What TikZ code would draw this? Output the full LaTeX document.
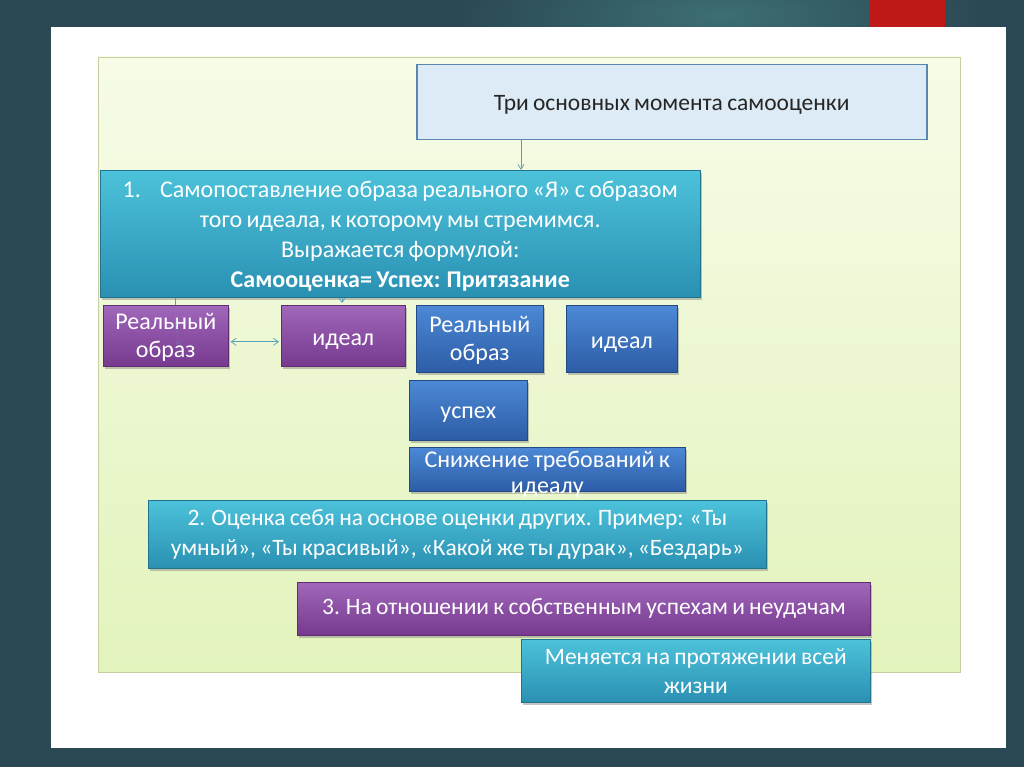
\documentclass[tikz,border=0pt]{standalone}
\usepackage{fontspec}
\setmainfont{Carlito}[WordSpace=0.8]
\usetikzlibrary{shadows,arrows.meta}
\definecolor{slidebg}{HTML}{2B4955}
\definecolor{glow}{HTML}{3D6F73}
\definecolor{redtab}{HTML}{C01A18}
\definecolor{panelT}{HTML}{F6FCE8}
\definecolor{panelB}{HTML}{E3F3BC}
\definecolor{panelE}{HTML}{C9CDA2}
\definecolor{titleF}{HTML}{DCEBF5}
\definecolor{titleE}{HTML}{5A86B0}
\definecolor{cyanT}{HTML}{4CC2DA}
\definecolor{cyanB}{HTML}{2A90B2}
\definecolor{purT}{HTML}{A067BA}
\definecolor{purB}{HTML}{76398E}
\definecolor{bluT}{HTML}{4C89D6}
\definecolor{bluB}{HTML}{2D5CA6}
\definecolor{conn}{HTML}{5A9FB8}
\newcommand\dnshift[2]{\raisebox{-#1}[\height][\depth]{\begin{tabular}{@{}c@{}}#2\end{tabular}}}
\tikzset{
  box/.style={rectangle, anchor=north west, inner sep=2pt, align=center, text=white,
    drop shadow={shadow xshift=2pt, shadow yshift=-3pt, opacity=0.45}},
  cyanbox/.style={box, top color=cyanT, bottom color=cyanB, draw=cyanB!80!black, line width=0.6pt},
  purbox/.style={box, top color=purT, bottom color=purB, draw=purB!80!black, line width=0.6pt},
  blubox/.style={box, top color=bluT, bottom color=bluB, draw=bluB!80!black, line width=0.6pt},
  conline/.style={draw=conn, line width=0.7pt},
  bigtxt/.style={font=\fontsize{24}{28}\selectfont},
}
\begin{document}
\begin{tikzpicture}[x=1pt,y=-1pt]
\useasboundingbox (0,0) rectangle (1024,767);
\fill[slidebg] (0,0) rectangle (1024,767);
\begin{scope}
\clip (0,0) rectangle (1024,27);
\shade[inner color=glow, outer color=slidebg] (720,15) ellipse [x radius=260pt, y radius=70pt];
\end{scope}
\fill[redtab] (869,0) rectangle (945,28);
\fill[white] (51,27) rectangle (1006,748);
\shade[top color=panelT, bottom color=panelB, draw=panelE, line width=0.8pt] (98,57) rectangle (960,672);

% title
\node[rectangle, anchor=north west, minimum width=510pt, minimum height=75pt, fill=titleF, draw=titleE, line width=1.5pt, text=black!85, font=\fontsize{23.5}{26}\selectfont] (title) at (416,64) {\dnshift{3pt}{Три основных момента самооценки}};

% box 1
\node[cyanbox, minimum width=600pt, minimum height=127pt, font=\fontsize{24}{30}\selectfont] (b1) at (100,170)
  {\dnshift{3pt}{1.\hspace{0.8em}Самопоставление образа реального «Я» с образом\\
   того идеала, к которому мы стремимся.\\
   Выражается формулой:\\
   \textbf{Самооценка= Успех: Притязание}}};

% row boxes
\node[purbox, minimum width=125pt, minimum height=61pt, bigtxt] (r1) at (103,305) {\dnshift{2pt}{Реальный\\образ}};
\node[purbox, minimum width=124pt, minimum height=61pt, bigtxt] (i1) at (281,305) {\dnshift{4pt}{идеал}};
\node[blubox, minimum width=127pt, minimum height=67pt, bigtxt] (r2) at (416,305) {\dnshift{2pt}{Реальный\\образ}};
\node[blubox, minimum width=111pt, minimum height=67pt, bigtxt] (i2) at (566,305) {\dnshift{4pt}{идеал}};
\node[blubox, minimum width=118pt, minimum height=60pt, bigtxt] (us) at (409,380) {\dnshift{3pt}{успех}};
\node[blubox, minimum width=276pt, minimum height=44pt, inner sep=0pt, font=\fontsize{24}{26}\selectfont] (sn) at (409,447) {\raisebox{-11pt}[0pt][0pt]{\parbox{276pt}{\centering Снижение требований к\\идеалу}}};

% box 2,3,4
\node[cyanbox, minimum width=618pt, minimum height=68pt, font=\fontsize{23.5}{30}\selectfont] (b2) at (148,500)
  {2. Оценка себя на основе оценки других. Пример: «Ты\\умный», «Ты красивый», «Какой же ты дурак», «Бездарь»};
\node[purbox, minimum width=573pt, minimum height=53pt, font=\fontsize{23.5}{26}\selectfont] (b3) at (297,582)
  {3. На отношении к собственным успехам и неудачам};
\node[cyanbox, minimum width=349pt, minimum height=63pt, font=\fontsize{23.5}{29}\selectfont] (b4) at (521,639)
  {Меняется на протяжении всей\\жизни};

% connectors
\draw[conline, -{Straight Barb[length=5pt,width=6pt]}] ([xshift=105pt]title.south west) -- ([xshift=105pt]title.south west |- b1.north);
\draw[conline, {Straight Barb[length=5pt,width=7pt]}-{Straight Barb[length=5pt,width=7pt]}] ([xshift=2pt,yshift=-6pt]r1.east) -- ([xshift=-2pt,yshift=-6pt]i1.west);
\coordinate (r1tip) at ([xshift=75pt,yshift=-40pt]r1.north west);
\draw[conline] ([xshift=75pt]b1.south west) -- ([xshift=75pt]b1.south west |- r1.north);
\draw[conline, opacity=0.35, -{Straight Barb[length=4pt,width=6pt]}] ([xshift=75pt]b1.south west |- r1.north) -- (r1tip);
\draw[conline, -{Straight Barb[length=4pt,width=6pt]}] ([xshift=242pt]b1.south west) -- ([xshift=242pt,yshift=2pt]b1.south west |- i1.north);
\end{tikzpicture}
\end{document}
